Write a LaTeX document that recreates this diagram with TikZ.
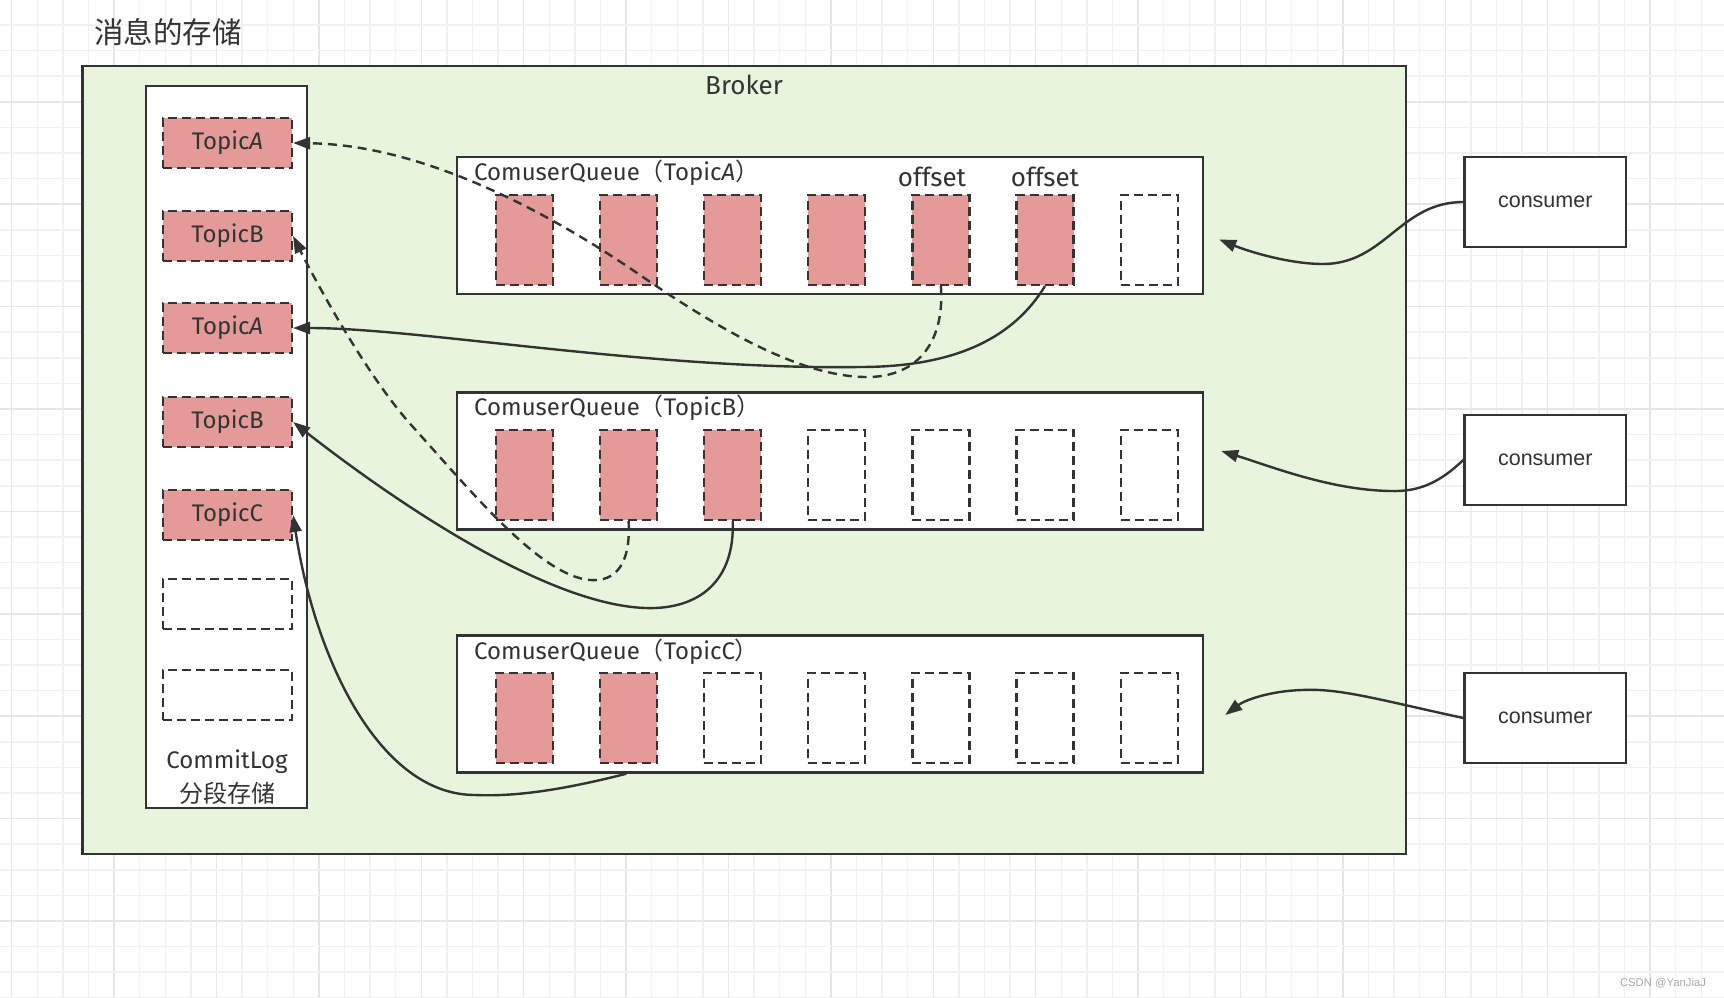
\documentclass[tikz,border=0pt]{standalone}
\usepackage{fontspec}
\setmainfont{Fira Sans}
\newfontfamily\cjk{Noto Sans CJK SC}
\newfontfamily\arialf{Liberation Sans}
\usetikzlibrary{arrows.meta,calc}
\definecolor{ink}{HTML}{333333}
\definecolor{brokerfill}{HTML}{E6F5DC}
\definecolor{msgfill}{HTML}{E49A99}
\definecolor{gridminor}{HTML}{F1F1F1}
\definecolor{gridmajor}{HTML}{E6E6E6}
\definecolor{wmark}{HTML}{A8A8A8}
\begin{document}
\begin{tikzpicture}[x=1pt,y=-1pt,
  frame/.style={draw=ink, line width=2.4pt, fill=white, inner sep=0pt},
  topicbox/.style={draw=ink, line width=2.2pt, dash pattern=on 9pt off 5pt, fill=msgfill, inner sep=0pt,
    minimum width=129pt, minimum height=50pt, text=ink, font=\fontsize{24}{28}\selectfont},
  emptybox/.style={topicbox, fill=white},
  slotfull/.style={draw=ink, line width=2.2pt, dash pattern=on 9pt off 5pt, fill=msgfill, inner sep=0pt,
    minimum width=57pt, minimum height=90pt},
  slotempty/.style={slotfull, fill=white},
  queuebox/.style={frame, minimum width=746pt, minimum height=137pt},
  consumerbox/.style={frame, minimum width=161.5pt, minimum height=90pt, text=ink,
    font=\arialf\fontsize{21.5}{24}\selectfont},
  lbl/.style={text=ink, inner sep=0pt, font=\fontsize{24}{28}\selectfont},
  conn/.style={draw=ink, line width=2.4pt, -{Triangle[length=17pt,width=12pt]}},
  dconn/.style={conn, dash pattern=on 9pt off 6pt}]
\useasboundingbox (0,0) rectangle (1724,998);
\fill[white] (0,0) rectangle (1724,998);
% grid
\foreach \k in {0,...,67}{
  \pgfmathtruncatemacro{\m}{mod(\k,4)}
  \ifnum\m=0 \def\gc{gridmajor}\else\def\gc{gridminor}\fi
  \draw[\gc, line width=1.5pt] ({11.7+25.6*\k},0) -- ({11.7+25.6*\k},998);
}
\foreach \k in {0,...,38}{
  \pgfmathtruncatemacro{\m}{mod(\k,4)}
  \ifnum\m=3 \def\gc{gridmajor}\else\def\gc{gridminor}\fi
  \draw[\gc, line width=1.5pt] (0,{25+25.6*\k}) -- (1724,{25+25.6*\k});
}
% title
\node[text=ink, inner sep=0pt, font=\cjk\fontsize{29.5}{32}\selectfont] (title) at (168,32) {消息的存储};
% broker
\node[draw=ink, line width=2.6pt, fill=brokerfill, inner sep=0pt, minimum width=1323.5pt, minimum height=788pt] (broker) at (744.25,460) {};
\node[lbl, font=\fontsize{26}{30}\selectfont] (brokerlbl) at (744,85) {Broker};
% commit log
\node[frame, minimum width=161pt, minimum height=722pt] (commitlog) at (226.5,447) {};
\node[topicbox] (t1) at (227.5,143) {Topic\itshape A};
\node[topicbox] (t2) at (227.5,236) {TopicB};
\node[topicbox] (t3) at (227.5,328) {Topic\itshape A};
\node[topicbox] (t4) at (227.5,422) {TopicB};
\node[topicbox] (t5) at (227.5,515) {TopicC};
\node[emptybox] (t6) at (227.5,604) {};
\node[emptybox] (t7) at (227.5,695) {};
\node[lbl] (cl1) at (227,762) {CommitLog};
\node[lbl, font=\cjk\fontsize{24}{28}\selectfont] (cl2) at (227,793) {分段存储};
% queues
\node[queuebox] (qa) at (830,225.5) {};
\node[queuebox] (qb) at (830,461) {};
\node[queuebox] (qc) at (830,704) {};
\node[lbl, anchor=west] (qalbl) at (474,173) {ComuserQueue{\cjk （}Topic\textit{A}{\cjk ）}};
\node[lbl, anchor=west] (qblbl) at (474,408) {ComuserQueue{\cjk （}TopicB{\cjk ）}};
\node[lbl, anchor=west] (qclbl) at (474,652) {ComuserQueue{\cjk （}TopicC{\cjk ）}};
\node[lbl, font=\fontsize{26}{30}\selectfont] (off1) at (932,177) {offset};
\node[lbl, font=\fontsize{26}{30}\selectfont] (off2) at (1045,177) {offset};
\foreach \i/\s in {1/slotfull,2/slotfull,3/slotfull,4/slotfull,5/slotfull,6/slotfull,7/slotempty}
  \node[\s] (qa\i) at ({524.5+104.1*(\i-1)},240) {};
\foreach \i/\s in {1/slotfull,2/slotfull,3/slotfull,4/slotempty,5/slotempty,6/slotempty,7/slotempty}
  \node[\s] (qb\i) at ({524.5+104.1*(\i-1)},475) {};
\foreach \i/\s in {1/slotfull,2/slotfull,3/slotempty,4/slotempty,5/slotempty,6/slotempty,7/slotempty}
  \node[\s] (qc\i) at ({524.5+104.1*(\i-1)},718) {};
% consumers
\node[consumerbox] (c1) at (1545.25,202) {consumer};
\node[consumerbox] (c2) at (1545.25,460) {consumer};
\node[consumerbox] (c3) at (1545.25,718) {consumer};
% arrow end points
\coordinate (ta) at ($(qa.east)+(15,14)$);
\coordinate (tb) at ($(qb.east)+(17,-10)$);
\coordinate (tc) at ($(qc.east)+(21,11)$);
\coordinate (qcout) at ($(qc.south west)!0.228!(qc.south east)$);
% consumer arrows
\draw[conn] (c1.west) .. controls (1400,202) and (1385,264) .. (1323,264) .. controls (1290,264) and (1250,252) .. (ta);
\draw[conn] (c2.west) .. controls (1440,482) and (1420,492) .. (1390,491) .. controls (1330,490) and (1270,466) .. (tb);
\draw[conn] (c3.west) .. controls (1380,700) and (1340,688) .. (1302,690) .. controls (1270,691) and (1245,700) .. (tc);
% queue to commitlog arrows
\draw[conn] (qa6.south) .. controls (1015,335) and (960,367) .. (860,367) .. controls (650,370) and (420,328) .. (t3.east);
\draw[dconn] (qa5.south) .. controls (945,345) and (915,378) .. (865,377) .. controls (800,376) and (720,330) .. (640,275) .. controls (560,220) and (430,145) .. (t1.east);
\draw[conn] (qb3.south) .. controls (735,580) and (700,610) .. (645,608) .. controls (540,604) and (380,490) .. (t4.east);
\draw[dconn] (qb2.south) .. controls (631,565) and (615,582) .. (590,580) .. controls (540,576) and (470,490) .. (413,427) .. controls (370,380) and (320,290) .. (t2.east);
\draw[conn] (qcout) .. controls (570,788) and (520,797) .. (475,795) .. controls (380,795) and (315,660) .. (t5.east);
% watermark
\node[text=wmark, inner sep=0pt, font=\arialf\fontsize{11.3}{13}\selectfont] (wm) at (1663,983) {CSDN @YanJiaJ};
\end{tikzpicture}
\end{document}
